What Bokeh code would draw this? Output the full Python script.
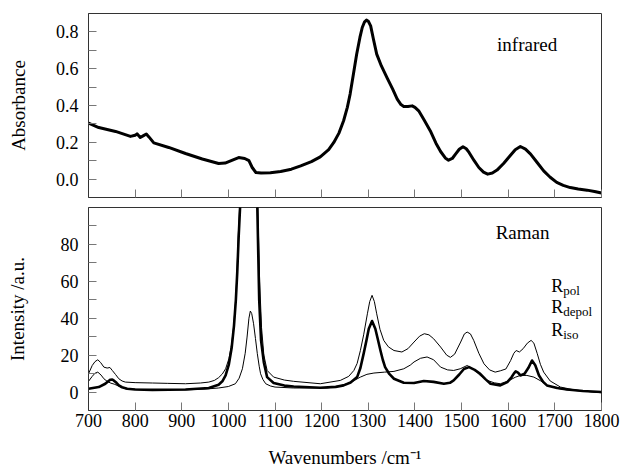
from bokeh.plotting import figure
from bokeh.layouts import column
from bokeh.models import FixedTicker, Range1d, Label
from bokeh.embed import file_html
from bokeh.resources import INLINE

FONT = "Liberation Serif"

# ---------------- data ----------------
ir_wn = [700, 722, 758, 790, 800, 804, 811, 818, 824, 830, 840, 872, 908, 944, 979, 993,
         1010, 1022, 1035, 1044, 1051, 1059, 1070, 1090, 1112, 1135, 1155, 1178, 1197, 1215,
         1226, 1237, 1247, 1255, 1261, 1268, 1275, 1282, 1287, 1292, 1296, 1300, 1305, 1311,
         1318, 1328, 1340, 1352, 1362, 1370, 1376, 1385, 1394, 1400, 1408, 1420, 1433, 1445,
         1455, 1465, 1472, 1480, 1487, 1495, 1503, 1510, 1516, 1527, 1537, 1547, 1556, 1566,
         1576, 1590, 1604, 1615, 1626, 1637, 1648, 1662, 1676, 1690, 1704, 1718, 1733, 1750,
         1769, 1785, 1800]
ir_abs = [0.304, 0.280, 0.259, 0.232, 0.238, 0.246, 0.226, 0.236, 0.245, 0.228, 0.197, 0.172,
          0.139, 0.109, 0.085, 0.087, 0.105, 0.117, 0.112, 0.100, 0.063, 0.036, 0.033, 0.034,
          0.041, 0.054, 0.072, 0.095, 0.121, 0.160, 0.199, 0.250, 0.317, 0.390, 0.462, 0.570,
          0.679, 0.770, 0.824, 0.855, 0.864, 0.858, 0.833, 0.760, 0.679, 0.615, 0.552, 0.490,
          0.435, 0.405, 0.395, 0.395, 0.398, 0.390, 0.371, 0.320, 0.262, 0.195, 0.150, 0.115,
          0.103, 0.112, 0.136, 0.162, 0.176, 0.165, 0.145, 0.100, 0.063, 0.038, 0.027, 0.033,
          0.049, 0.085, 0.127, 0.160, 0.177, 0.163, 0.136, 0.090, 0.045, 0.010, -0.018, -0.034,
          -0.046, -0.054, -0.060, -0.067, -0.076]

rpol_wn = [700, 708, 714, 720, 726, 733, 740, 746, 751, 758, 765, 772, 779, 800, 837, 870, 908,
           940, 958, 970, 979, 987, 994, 1001, 1007, 1011, 1015, 1018, 1021, 1024, 1043, 1063,
           1067, 1071, 1076, 1083, 1097, 1120, 1140, 1197, 1240, 1258, 1269, 1276, 1283, 1290,
           1298, 1303, 1308, 1313, 1318, 1325, 1333, 1343, 1355, 1372, 1385, 1398, 1410, 1420,
           1430, 1440, 1455, 1468, 1476, 1485, 1498, 1506, 1512, 1519, 1526, 1537, 1548, 1560,
           1572, 1583, 1595, 1605, 1612, 1617, 1624, 1632, 1641, 1649, 1655, 1662, 1669, 1676,
           1690, 1712, 1735, 1762, 1780, 1800]
rpol_int = [9.9, 14.4, 16.5, 17.5, 16.0, 13.5, 13.0, 13.3, 11.7, 9.5, 7.2, 6.0, 5.4, 5.1, 4.9,
            4.7, 4.5, 4.9, 5.4, 6.3, 7.8, 9.8, 12.6, 18.0, 26.0, 35.0, 48.0, 62.0, 84.0, 100.0,
            400.0, 100.0, 60.0, 35.0, 20.0, 11.7, 8.1, 6.5, 5.8, 4.5, 6.3, 8.5, 11.7, 15.5, 22.5,
            31.0, 42.4, 49.0, 52.4, 49.0, 42.4, 34.0, 28.0, 24.5, 22.5, 21.7, 23.5, 27.1, 30.3,
            31.6, 31.0, 28.9, 24.4, 20.0, 18.8, 20.5, 27.1, 31.5, 32.5, 31.5, 28.0, 21.0, 15.3,
            12.0, 10.8, 11.5, 12.5, 17.0, 21.0, 22.5, 21.7, 23.5, 26.5, 28.0, 26.5, 21.0, 15.0,
            10.8, 6.0, 2.7, 1.5, 0.5, 0.1, -0.4]

rdep_wn = [700, 708, 714, 720, 727, 733, 740, 748, 755, 765, 779, 800, 850, 908, 950, 979, 1000,
           1015, 1023, 1030, 1036, 1040, 1044, 1047, 1050, 1054, 1058, 1062, 1066, 1069, 1074,
           1080, 1090, 1100, 1140, 1211, 1235, 1254, 1270, 1283, 1297, 1312, 1335, 1355, 1376,
           1390, 1398, 1412, 1426, 1440, 1455, 1470, 1483, 1497, 1512, 1525, 1540, 1555, 1570,
           1583, 1600, 1615, 1626, 1640, 1655, 1670, 1683, 1705, 1726, 1760, 1800]
rdep_int = [5.8, 8.5, 10.2, 10.8, 9.2, 7.2, 5.8, 4.8, 4.3, 3.2, 1.8, 1.5, 1.3, 1.2, 1.6, 2.2,
            3.0, 4.5, 7.5, 12.6, 21.0, 29.8, 40.0, 43.9, 42.5, 37.0, 29.0, 20.8, 14.0, 9.9, 6.8,
            4.5, 3.3, 2.7, 2.2, 2.2, 3.0, 4.5, 6.3, 8.1, 9.6, 10.3, 10.8, 11.2, 12.6, 14.6, 16.3,
            18.3, 19.0, 17.5, 13.5, 12.0, 11.7, 12.6, 14.4, 12.5, 9.0, 6.3, 5.0, 4.5, 6.0, 8.0,
            9.0, 9.0, 8.1, 6.0, 3.6, 2.0, 1.2, 0.5, -0.2]

riso_wn = [700, 722, 736, 743, 747, 751, 754, 760, 765, 772, 783, 800, 837, 908, 958, 979, 987,
           994, 1001, 1007, 1012, 1016, 1019, 1022, 1025, 1043, 1062, 1066, 1070, 1076, 1083,
           1097, 1120, 1140, 1197, 1230, 1247, 1262, 1276, 1283, 1290, 1296, 1301, 1308, 1315,
           1320, 1326, 1331, 1336, 1345, 1355, 1376, 1398, 1419, 1440, 1462, 1475, 1483, 1495,
           1505, 1516, 1528, 1540, 1551, 1562, 1583, 1598, 1607, 1612, 1616, 1621, 1626, 1635,
           1643, 1651, 1658, 1666, 1675, 1683, 1705, 1726, 1760, 1800]
riso_int = [1.8, 2.7, 4.5, 6.0, 6.7, 6.8, 6.3, 5.0, 3.6, 2.6, 1.8, 1.4, 1.2, 1.4, 2.2, 4.0, 5.8,
            9.0, 15.0, 24.0, 36.0, 50.0, 65.0, 84.0, 100.0, 400.0, 100.0, 50.0, 28.0, 16.0, 8.1,
            4.9, 3.5, 3.0, 2.3, 2.8, 3.6, 5.2, 8.1, 13.0, 20.8, 28.0, 34.3, 38.5, 34.3, 29.0,
            22.5, 17.5, 13.5, 9.8, 7.2, 5.0, 4.9, 6.0, 5.5, 4.5, 5.0, 6.3, 9.5, 12.5, 13.5, 12.0,
            9.9, 7.0, 4.5, 3.6, 5.4, 8.0, 10.0, 11.2, 10.5, 9.0, 9.9, 13.0, 17.1, 14.5, 9.0, 5.5,
            3.6, 2.2, 1.4, 0.6, 0.0]

x_ticks = [700, 800, 900, 1000, 1100, 1200, 1300, 1400, 1500, 1600, 1700, 1800]
ir_ticks = [0.0, 0.2, 0.4, 0.6, 0.8]
ir_tick_labels = ["0.0", "0.2", "0.4", "0.6", "0.8"]
ir_minor = [0.1, 0.3, 0.5, 0.7]
ra_ticks = [0, 20, 40, 60, 80]
ra_tick_labels = ["0", "20", "40", "60", "80"]
ra_minor = [10, 30, 50, 70, 90]

FRAME = "#333333"
TICK = "#777777"


def style(p, yt, ymin, ylabels):
    p.xgrid.visible = False
    p.ygrid.visible = False
    p.outline_line_color = FRAME
    p.outline_line_width = 1
    p.background_fill_color = "white"
    p.border_fill_color = "white"
    for ax in (p.xaxis[0], p.yaxis[0]):
        ax.axis_line_color = FRAME
        ax.major_tick_line_color = TICK
        ax.minor_tick_line_color = TICK
        ax.major_tick_in = 8
        ax.major_tick_out = 0
        ax.minor_tick_in = 8
        ax.minor_tick_out = 0
        ax.major_label_text_font = FONT
        ax.major_label_text_font_size = "18px"
        ax.major_label_text_color = "black"
        ax.axis_label_text_font = FONT
        ax.axis_label_text_font_size = "19px"
        ax.axis_label_text_font_style = "normal"
        ax.axis_label_text_color = "black"
    p.yaxis[0].ticker = FixedTicker(ticks=yt, minor_ticks=ymin)
    p.yaxis[0].major_label_standoff = 10
    p.yaxis[0].major_label_overrides = {t: l for t, l in zip(yt, ylabels)}
    p.xaxis[0].ticker = FixedTicker(ticks=x_ticks, minor_ticks=[])


# ---------------- top panel: infrared ----------------
p1 = figure(width=621, height=202, output_backend="svg", toolbar_location=None,
            x_range=Range1d(700, 1800), y_range=Range1d(-0.1, 0.9),
            min_border_left=88, min_border_right=20, min_border_top=13, min_border_bottom=5)
style(p1, ir_ticks, ir_minor, ir_tick_labels)
p1.xaxis[0].major_label_overrides = {t: "" for t in x_ticks}
p1.xaxis[0].major_label_standoff = 0
p1.xaxis[0].major_label_text_font_size = "1px"
p1.yaxis[0].axis_label = "Absorbance"
p1.yaxis[0].axis_label_standoff = 24
p1.line(ir_wn, ir_abs, line_color="black", line_width=3, line_join="round")

p1.add_layout(Label(x=1576, y=0.734, text="infrared", text_font=FONT, text_font_size="19px",
                    text_color="black", text_align="left", text_baseline="alphabetic"))

# ---------------- bottom panel: Raman ----------------
p2 = figure(width=621, height=270, output_backend="svg", toolbar_location=None,
            x_range=Range1d(700, 1800), y_range=Range1d(-10, 100),
            min_border_left=88, min_border_right=20, min_border_top=5, min_border_bottom=62)
style(p2, ra_ticks, ra_minor, ra_tick_labels)
p2.xaxis[0].major_label_standoff = 3
p2.xaxis[0].axis_label = "Wavenumbers /cm\u207b\u00b9"
p2.xaxis[0].axis_label_standoff = 17
p2.yaxis[0].axis_label = "Intensity /a.u."
p2.yaxis[0].axis_label_standoff = 30
p2.line(rpol_wn, rpol_int, line_color="black", line_width=1)
p2.line(rdep_wn, rdep_int, line_color="black", line_width=1)
p2.line(riso_wn, riso_int, line_color="black", line_width=2.6, line_join="round")

p2.add_layout(Label(x=1573, y=86.7, text="Raman", text_font=FONT, text_font_size="19px",
                    text_color="black", text_align="left", text_baseline="alphabetic"))
for main_y, sub_y, sub in [(57.3, 54.9, "pol"), (46.1, 43.5, "depol"), (33.8, 31.3, "iso")]:
    p2.add_layout(Label(x=1692, y=main_y, text="R", text_font=FONT, text_font_size="18px",
                        text_color="black", text_align="left", text_baseline="alphabetic"))
    p2.add_layout(Label(x=1718, y=sub_y, text=sub, text_font=FONT, text_font_size="13px",
                        text_color="black", text_align="left", text_baseline="alphabetic"))

layout = column(p1, p2, spacing=0)
open("out.html", "w").write(file_html(layout, INLINE))
